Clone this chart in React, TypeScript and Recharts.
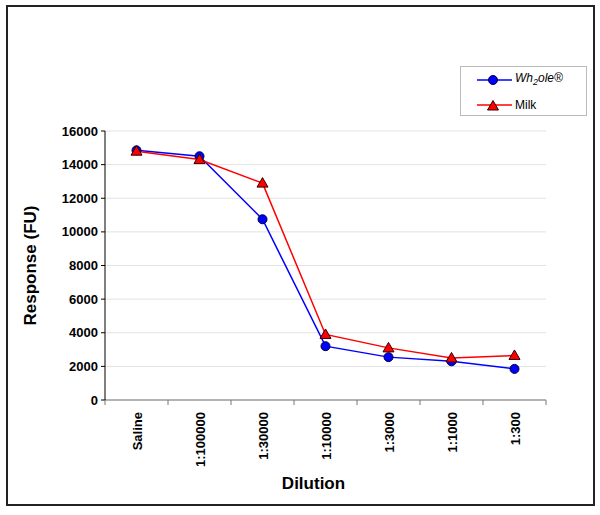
import { LineChart, Line, XAxis, YAxis, CartesianGrid, Legend } from "recharts";

const dilutions = ["Saline", "1:100000", "1:30000", "1:10000", "1:3000", "1:1000", "1:300"];
const wh2oleValues = [14850, 14500, 10750, 3200, 2550, 2300, 1850];
const milkValues = [14800, 14300, 12900, 3900, 3100, 2500, 2650];
const yTicks = [0, 2000, 4000, 6000, 8000, 10000, 12000, 14000, 16000];

const data = dilutions.map((dilution, i) => ({
  dilution,
  wh2ole: wh2oleValues[i],
  milk: milkValues[i],
}));

const FONT = '"Liberation Sans", Arial, sans-serif';

function DilutionTick(props: any) {
  const { x, y, payload, index } = props;
  const half = payload?.offset ?? 31.5;
  const last = index === dilutions.length - 1;
  return (
    <g>
      <line x1={x - half} x2={x - half} y1={y} y2={y + 5} stroke="#777" />
      {last && <line x1={x + half} x2={x + half} y1={y} y2={y + 5} stroke="#777" />}
      <text
        x={0}
        y={0}
        transform={`translate(${x + 1}, ${y + 12}) rotate(-90)`}
        textAnchor="end"
        dominantBaseline="central"
        fontFamily={FONT}
        fontWeight="bold"
        fontSize={13}
        fill="#000"
      >
        {payload.value}
      </text>
    </g>
  );
}

function CircleDot(props: any) {
  const { cx, cy } = props;
  if (cx == null || cy == null) return null;
  return <circle cx={cx} cy={cy} r={4.5} fill="#0000ff" stroke="#000033" strokeWidth={1} />;
}

function TriangleDot(props: any) {
  const { cx, cy } = props;
  if (cx == null || cy == null) return null;
  return (
    <polygon
      points={`${cx},${cy - 5.5} ${cx + 5.5},${cy + 4} ${cx - 5.5},${cy + 4}`}
      fill="#ff0000"
      stroke="#330000"
      strokeWidth={1}
    />
  );
}

function ChartLegend() {
  const row = { display: "flex", alignItems: "center", height: 25 } as const;
  return (
    <div
      style={{
        width: 127,
        height: 50,
        border: "1px solid #bbb",
        boxSizing: "border-box",
        background: "#fff",
        fontFamily: FONT,
        fontSize: 12,
      }}
    >
      <div style={row}>
        <svg width={52} height={12} style={{ marginLeft: 16 }}>
          <line x1={0} x2={35} y1={6} y2={6} stroke="#0000ff" strokeWidth={1.5} />
          <CircleDot cx={16} cy={6} />
        </svg>
        <span style={{ fontStyle: "italic", marginLeft: -14 }}>
          Wh<sub style={{ fontSize: 9 }}>2</sub>ole®
        </span>
      </div>
      <div style={row}>
        <svg width={52} height={12} style={{ marginLeft: 16 }}>
          <line x1={0} x2={35} y1={6} y2={6} stroke="#ff0000" strokeWidth={1.5} />
          <TriangleDot cx={16} cy={7} />
        </svg>
        <span style={{ marginLeft: -14 }}>Milk</span>
      </div>
    </div>
  );
}

export default function App() {
  return (
    <div style={{ position: "absolute", left: 0, top: 0, width: 600, height: 515, background: "#fff" }}>
      <div
        style={{
          position: "absolute",
          left: 6,
          top: 5,
          width: 589,
          height: 501,
          border: "2px solid #222",
          boxSizing: "border-box",
        }}
      />
      <LineChart
        width={600}
        height={515}
        data={data}
        margin={{ top: 131, right: 54, bottom: 0, left: 0 }}
      >
        <CartesianGrid vertical={false} stroke="#e2e2e2" />
        <XAxis
          dataKey="dilution"
          scale="band"
          height={115}
          axisLine={{ stroke: "#777" }}
          tickLine={false}
          tickSize={0}
          tickMargin={0}
          interval={0}
          tick={<DilutionTick />}
          label={{
            content: (p: any) => {
              const vb = p.viewBox || { x: 105, y: 400, width: 441 };
              return (
                <text
                  x={vb.x + vb.width / 2 - 12}
                  y={vb.y + 83}
                  textAnchor="middle"
                  dominantBaseline="central"
                  fontFamily={FONT}
                  fontWeight="bold"
                  fontSize={17}
                  fill="#000"
                >
                  Dilution
                </text>
              );
            },
          }}
        />
        <YAxis
          width={105}
          domain={[0, 16000]}
          ticks={yTicks}
          interval={0}
          axisLine={{ stroke: "#000" }}
          tickLine={{ stroke: "#000" }}
          tickSize={4}
          tickMargin={3}
          tick={{ fill: "#000", fontFamily: FONT, fontWeight: "bold", fontSize: 13 }}
          label={{
            content: (p: any) => {
              const vb = p.viewBox || { x: 0, y: 131, height: 269 };
              const cx = vb.x + 30;
              const cy = vb.y + vb.height / 2;
              return (
                <text
                  x={cx}
                  y={cy}
                  transform={`rotate(-90, ${cx}, ${cy})`}
                  textAnchor="middle"
                  dominantBaseline="central"
                  fontFamily={FONT}
                  fontWeight="bold"
                  fontSize={17}
                  fill="#000"
                >
                  Response (FU)
                </text>
              );
            },
          }}
        />
        <Legend
          layout="vertical"
          align="center"
          verticalAlign="middle"
          wrapperStyle={{ position: "absolute", left: 460, top: 66, width: 127, height: 50 }}
          content={() => <ChartLegend />}
        />
        <Line
          type="linear"
          dataKey="wh2ole"
          name="Wh2ole®"
          stroke="#0000ff"
          strokeWidth={1.5}
          dot={<CircleDot />}
          activeDot={false}
          isAnimationActive={false}
        />
        <Line
          type="linear"
          dataKey="milk"
          name="Milk"
          stroke="#ff0000"
          strokeWidth={1.5}
          dot={<TriangleDot />}
          activeDot={false}
          isAnimationActive={false}
        />
      </LineChart>
    </div>
  );
}
